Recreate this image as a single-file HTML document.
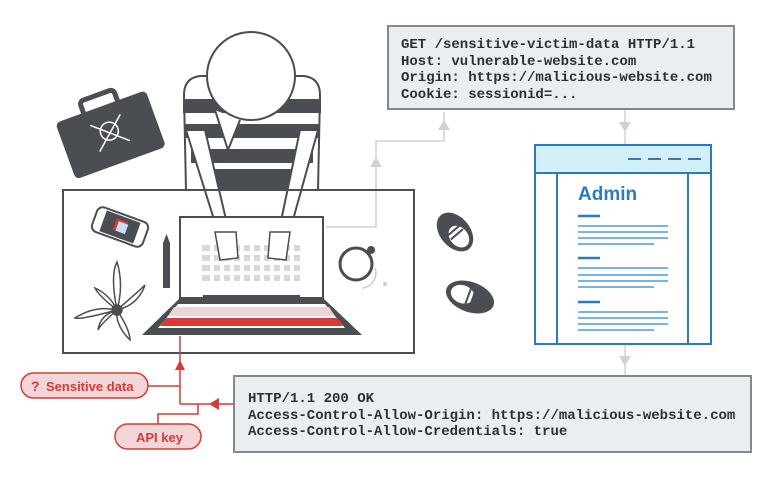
<!DOCTYPE html>
<html><head><meta charset="utf-8"><style>
html,body{margin:0;padding:0;background:#fff;width:770px;height:489px;overflow:hidden}
svg text{font-family:"Liberation Mono",monospace;font-weight:bold}
svg text.s{font-family:"Liberation Sans",sans-serif;font-weight:bold}
</style></head><body>
<svg width="770" height="489" viewBox="0 0 770 489" xmlns="http://www.w3.org/2000/svg">
<g stroke="#cfd2d4" stroke-width="1.5" fill="none">
<polyline points="326,227 376,227 376,141 444,141 444,112"/>
<line x1="625" y1="109" x2="625" y2="145"/>
<line x1="625" y1="344" x2="625" y2="376"/>
</g>
<g fill="#cfd2d4">
<polygon points="376,157 370,167 382,167"/>
<polygon points="444,120 438,130 450,130"/>
<polygon points="625,132 619,122 631,122"/>
<polygon points="625,366 619,356 631,356"/>
</g>
<rect x="388" y="26" width="346" height="83" fill="#e9eef1" stroke="#85898d" stroke-width="2"/>
<g font-size="14" fill="#2c2f33">
<text x="401" y="48">GET /sensitive-victim-data HTTP/1.1</text>
<text x="401" y="65">Host: vulnerable-website.com</text>
<text x="401" y="81">Origin: https://malicious-website.com</text>
<text x="401" y="98">Cookie: sessionid=...</text>
</g>
<rect x="535" y="145" width="176" height="199" fill="#fff" stroke="#2b7ac6" stroke-width="2"/>
<rect x="535" y="145" width="176" height="28" fill="#d3eff6" stroke="#2b7ac6" stroke-width="2"/>
<line x1="557" y1="173" x2="557" y2="344" stroke="#2b7ac6" stroke-width="2"/>
<line x1="688" y1="173" x2="688" y2="344" stroke="#2b7ac6" stroke-width="2"/>
<line x1="628" y1="159" x2="701" y2="159" stroke="#2b7ac6" stroke-width="2" stroke-dasharray="13,7"/>
<text class="s" x="578" y="200" font-size="19" font-weight="bold" fill="#2b7ac6">Admin</text>
<g stroke="#4e9ad8" stroke-width="1.5">
<line x1="578" y1="216" x2="600" y2="216" stroke-width="2.5" stroke="#2b7ac6"/>
<line x1="578" y1="226" x2="668" y2="226"/><line x1="578" y1="232" x2="668" y2="232"/><line x1="578" y1="238" x2="668" y2="238"/><line x1="578" y1="244" x2="654" y2="244"/>
<line x1="578" y1="258" x2="600" y2="258" stroke-width="2.5" stroke="#2b7ac6"/>
<line x1="578" y1="268" x2="668" y2="268"/><line x1="578" y1="275" x2="668" y2="275"/><line x1="578" y1="281" x2="668" y2="281"/><line x1="578" y1="287" x2="654" y2="287"/>
<line x1="578" y1="302" x2="600" y2="302" stroke-width="2.5" stroke="#2b7ac6"/>
<line x1="578" y1="312" x2="668" y2="312"/><line x1="578" y1="318" x2="668" y2="318"/><line x1="578" y1="324" x2="668" y2="324"/><line x1="578" y1="330" x2="654" y2="330"/>
</g>
<rect x="234" y="376" width="517" height="76" fill="#e9eef1" stroke="#85898d" stroke-width="2"/>
<g font-size="14" fill="#2c2f33">
<text x="248" y="402">HTTP/1.1 200 OK</text>
<text x="248" y="419">Access-Control-Allow-Origin: https://malicious-website.com</text>
<text x="248" y="435">Access-Control-Allow-Credentials: true</text>
</g>
<g stroke="#4a4d52" stroke-width="2">
<path d="M184,95 Q184,78 200,76 L304,76 Q320,78 320,95 L318,190 L186,190 Z" fill="#fff"/>
<path d="M184,100 L320,100 L320,112 L184,112Z M185,125 L319,125 L319,137 L185,137Z M192,150 L312,150 L312,162 L192,162Z M205,170 L300,170 L300,190 L205,190Z" fill="#4a4d52"/>
<path d="M186,130 L222,245 L232,245 L205,130Z" fill="#fff"/>
<path d="M318,130 L286,245 L276,245 L300,130Z" fill="#fff"/>
<circle cx="251" cy="76" r="44" fill="#fff"/>
<path d="M215,110 L228,150 L240,120" fill="#fff"/>
</g>
<g transform="translate(110,133) rotate(-20)">
<rect x="-48" y="-28" width="96" height="60" rx="5" fill="#4a4d52"/>
<rect x="-18" y="-40" width="36" height="16" rx="4" fill="none" stroke="#4a4d52" stroke-width="5"/>
<circle cx="0" cy="-2" r="9" fill="none" stroke="#fff" stroke-width="1.5"/>
<path d="M-16,-14 L16,14 M16,-14 L-16,14" stroke="#fff" stroke-width="1.5"/>
</g>
<rect x="63" y="190" width="351" height="163" fill="none" stroke="#4a4d52" stroke-width="2"/>
<rect x="180" y="217" width="143" height="81" fill="#fff" stroke="#4a4d52" stroke-width="2"/>
<g fill="#d6d8da">
<rect x="202" y="245" width="98" height="6"/><rect x="202" y="255" width="98" height="6"/><rect x="202" y="265" width="98" height="6"/><rect x="202" y="275" width="98" height="6"/>
</g>
<g stroke="#fff" stroke-width="4"><line x1="212" y1="243" x2="212" y2="283"/><line x1="222" y1="243" x2="222" y2="283"/><line x1="232" y1="243" x2="232" y2="283"/><line x1="242" y1="243" x2="242" y2="283"/><line x1="252" y1="243" x2="252" y2="283"/><line x1="262" y1="243" x2="262" y2="283"/><line x1="272" y1="243" x2="272" y2="283"/><line x1="282" y1="243" x2="282" y2="283"/><line x1="292" y1="243" x2="292" y2="283"/></g>
<g fill="#fff" stroke="#4a4d52" stroke-width="1.5"><path d="M215,232 L236,232 L238,258 L220,260 Z"/><path d="M270,232 L290,232 L286,260 L268,258 Z"/></g>
<rect x="203" y="295" width="97" height="6" fill="#4a4d52"/>
<polygon points="180,298 323,298 362,335 142,335" fill="#4a4d52"/>
<polygon points="178,304 325,304 345,328 158,328" fill="#fff"/>
<polygon points="174,307 329,307 335,316 168,316" fill="#ecd3d4"/>
<polygon points="166,318 337,318 343,326 160,326" fill="#d93a36"/>
<g transform="translate(120,227) rotate(20)"><rect x="-27" y="-13" width="54" height="26" rx="6" fill="#fff" stroke="#4a4d52" stroke-width="2"/><rect x="-18" y="-11" width="36" height="22" fill="#4a4d52"/><rect x="-6" y="-7" width="12" height="12" fill="#d93a36"/><rect x="-3" y="-5" width="10" height="10" fill="#bfe3f5"/></g>
<rect x="163" y="243" width="7" height="45" fill="#4a4d52"/><polygon points="163,243 170,243 166.5,234" fill="#4a4d52"/>
<g stroke="#4a4d52" stroke-width="1.5" fill="#fff">
<path d="M117,310 Q110,275 117,262 Q124,285 117,310Z"/><path d="M117,310 Q80,320 75,318 Q95,305 117,310Z"/><path d="M117,310 Q140,290 145,285 Q138,305 117,310Z"/><path d="M117,310 Q130,330 130,340 Q115,325 117,310Z"/><path d="M117,310 Q100,325 98,330 Q100,315 117,310Z"/><path d="M117,310 Q98,295 95,288 Q110,295 117,310Z"/>
<circle cx="117" cy="310" r="5" fill="#4a4d52"/>
</g>
<circle cx="356" cy="264" r="16" fill="#fff" stroke="#4a4d52" stroke-width="3"/><circle cx="371" cy="250" r="4" fill="#4a4d52"/>
<path d="M375,268 A15,15 0 0 1 362,288" stroke="#ccc" fill="none" stroke-width="1.5"/><circle cx="385" cy="284" r="2" fill="#ccc"/>
<g transform="translate(455,232) rotate(-40)"><ellipse cx="0" cy="0" rx="15" ry="22" fill="#4a4d52"/><ellipse cx="0" cy="6" rx="9" ry="12" fill="#fff"/><path d="M-8,-2 L8,-2 M-8,3 L8,3" stroke="#4a4d52" stroke-width="2"/></g>
<g transform="translate(470,297) rotate(-70)"><ellipse cx="0" cy="0" rx="15" ry="25" fill="#4a4d52"/><ellipse cx="0" cy="-8" rx="9" ry="12" fill="#fff"/><path d="M-8,-2 L8,-2 M-8,3 L8,3" stroke="#4a4d52" stroke-width="2"/></g>
<g stroke="#d93a36" stroke-width="1.5" fill="none">
<line x1="180" y1="336" x2="180" y2="404"/>
<line x1="148" y1="386" x2="180" y2="386"/>
<line x1="180" y1="404" x2="234" y2="404"/>
<polyline points="198,404 198,414 158,414 158,424"/>
</g>
<polygon points="180,360 175,370 185,370" fill="#d93a36"/>
<polygon points="209,404 219,398 219,410" fill="#d93a36"/>
<rect x="21" y="373" width="127" height="25" rx="12.5" fill="#f2d5d6" stroke="#d93a36" stroke-width="1.5"/>
<text class="s" x="31" y="391" font-size="14" font-weight="bold" fill="#d93a36">?</text>
<text class="s" x="46" y="391" font-size="13" font-weight="bold" fill="#d93a36">Sensitive data</text>
<rect x="115" y="424" width="86" height="25" rx="12.5" fill="#f2d5d6" stroke="#d93a36" stroke-width="1.5"/>
<text class="s" x="136" y="442" font-size="13" font-weight="bold" fill="#d93a36">API key</text>
</svg>
</body></html>
